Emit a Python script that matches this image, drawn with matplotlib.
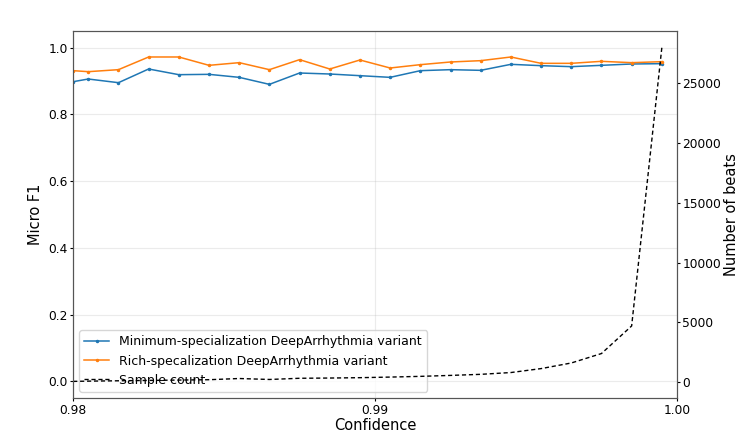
import numpy as np
import matplotlib
matplotlib.use("Agg")
import matplotlib.pyplot as plt

# confidence thresholds
confidence = [0.9800, 0.9805, 0.9815, 0.9825, 0.9835, 0.9845, 0.9855, 0.9865,
              0.9875, 0.9885, 0.9895, 0.9905, 0.9915, 0.9925, 0.9935, 0.9945,
              0.9955, 0.9965, 0.9975, 0.9985, 0.9995]

f1_min = [0.898, 0.906, 0.895, 0.936, 0.919, 0.920, 0.911, 0.890, 0.924, 0.921,
          0.916, 0.911, 0.931, 0.934, 0.932, 0.950, 0.946, 0.943, 0.947, 0.951,
          0.952]
f1_rich = [0.931, 0.928, 0.934, 0.972, 0.972, 0.947, 0.955, 0.934, 0.964, 0.936,
           0.963, 0.939, 0.949, 0.957, 0.961, 0.972, 0.953, 0.953, 0.959, 0.955,
           0.958]
sample_count = [60, 80, 110, 140, 170, 200, 300, 220, 320, 340, 370, 420, 480,
                560, 650, 800, 1130, 1600, 2390, 4700, 28000]

fig, ax1 = plt.subplots(figsize=(7.39, 4.36), dpi=100)
l1, = ax1.plot(confidence, f1_min, '.-', color='tab:blue', markersize=3, linewidth=1.1,
               label='Minimum-specialization DeepArrhythmia variant')
l2, = ax1.plot(confidence, f1_rich, '.-', color='tab:orange', markersize=3, linewidth=1.1,
               label='Rich-specalization DeepArrhythmia variant')
ax1.set_xlim(0.98, 1.0)
ax1.set_ylim(-0.05, 1.05)
ax1.set_xticks([0.98, 0.99, 1.00])
ax1.set_xticklabels(['0.98', '0.99', '1.00'])
ax1.set_xlabel('Confidence', fontsize=10.5, labelpad=1)
ax1.set_ylabel('Micro F1', fontsize=10.5)
ax1.tick_params(labelsize=8.8, length=2.5, pad=1.5)
ax1.grid(True, alpha=0.25)

ax2 = ax1.twinx()
l3, = ax2.plot(confidence, sample_count, 'k--', linewidth=1, dashes=(3, 2), label='Sample count')
ax2.set_ylabel('Number of beats', fontsize=10.5, labelpad=2)
ax2.tick_params(labelsize=8.8, length=2.5, pad=1.5)

for ax in (ax1, ax2):
    for s in ax.spines.values():
        s.set_color('#555555')

ax1.legend(handles=[l1, l2, l3], loc='lower left', fontsize=9)

fig.subplots_adjust(left=0.099, right=0.916, top=0.929, bottom=0.087)
fig.savefig('out.png', dpi=100)
